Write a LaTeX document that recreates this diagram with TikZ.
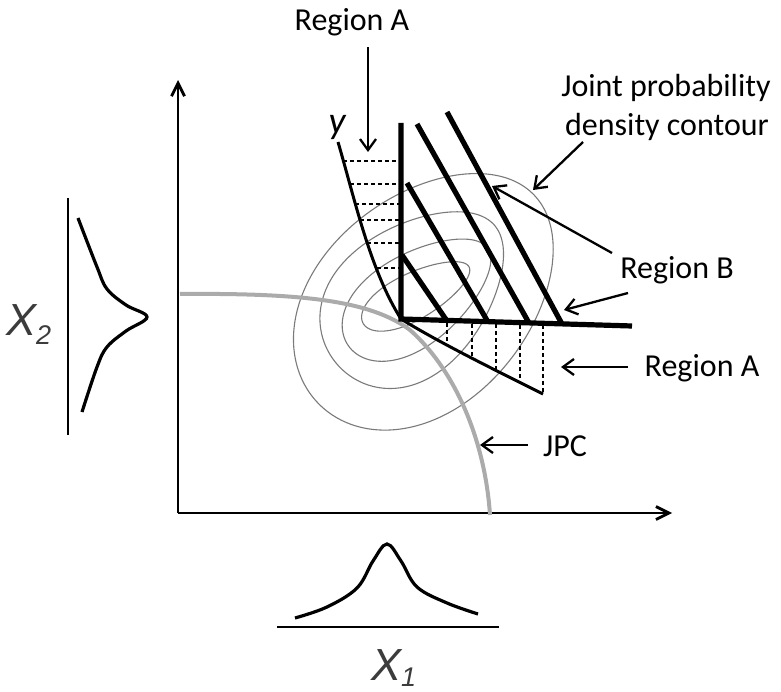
\documentclass[tikz,border=0pt]{standalone}
\usepackage{fontspec}
\setmainfont{Carlito}
\newfontfamily\xfont{Liberation Sans}
\usetikzlibrary{arrows.meta}
\definecolor{cgray}{HTML}{7A7A7A}
\definecolor{jgray}{HTML}{ABABAB}
\definecolor{xgray}{HTML}{3C3C3C}
\begin{document}
\begin{tikzpicture}[x=1pt,y=-1pt,
  lbl/.style={font=\fontsize{32}{39}\selectfont, inner sep=0pt},
  ylbl/.style={font=\fontsize{38}{40}\selectfont\itshape, inner sep=0pt},
  xlbl/.style={font=\xfont\itshape\fontsize{45}{50}\selectfont, text=xgray, inner sep=0pt},
  ptr/.style={line width=2.3pt, -{Straight Barb[length=11pt,width=16pt]}},
  axisln/.style={line width=2.8pt, -{Straight Barb[length=13pt,width=13pt]}},
  thickln/.style={line width=5.2pt, line join=miter},
  rcurve/.style={line width=3pt},
  dashln/.style={line width=1.4pt, dash pattern=on 4pt off 3pt},
  contour/.style={draw=cgray, line width=1.1pt},
  jpcline/.style={draw=jgray, line width=4pt},
  margcurve/.style={line width=3.2pt},
  margbase/.style={line width=1.5pt}
]
\useasboundingbox (0,0) rectangle (781,692);

% axes
\coordinate (O) at (178,513);
\coordinate (Ytop) at (178,80);
\coordinate (Xend) at (672,513);
\draw[axisln] (O) -- (Ytop);
\draw[axisln] (O) -- (Xend);

% marginal X2
\coordinate (lb1) at (68,198);
\coordinate (lb2) at (68,435);
\draw[margbase] (lb1) -- (lb2);
\draw[margcurve] plot[smooth, tension=0.6] coordinates {(78,218) (97,267) (107,289) (126,305) (147,317) (126,331) (107,347) (97,367) (82,412)};
\node[xlbl, anchor=base west] (x2) at (6,335) {X\raisebox{-9pt}{\fontsize{27}{27}\selectfont 2}};

% marginal X1
\coordinate (bb1) at (277,627);
\coordinate (bb2) at (499,627);
\draw[margbase] (bb1) -- (bb2);
\draw[margcurve] plot[smooth, tension=0.6] coordinates {(295,618) (327,607) (357,588) (373,561) (387,544) (401,561) (417,587) (447,603) (478,614)};
\node[xlbl, anchor=base west] (x1) at (371,680) {X\raisebox{-6pt}{\fontsize{27}{27}\selectfont 1}};

% contours (egg-shaped, tilted)
\draw[contour, shift={(416,295)}, rotate=28] plot[domain=0:360, samples=100, smooth cycle] ({60*cos(\x)}, {23*sin(\x)*(1-0.15*cos(\x))});
\draw[contour, shift={(418,297)}, rotate=35] plot[domain=0:360, samples=100, smooth cycle] ({85*cos(\x)}, {45*sin(\x)*(1-0.18*cos(\x))});
\draw[contour, shift={(416,295)}, rotate=42] plot[domain=0:360, samples=100, smooth cycle] ({105*cos(\x)}, {72*sin(\x)*(1-0.2*cos(\x))});
\draw[contour, shift={(426,299)}, rotate=44] plot[domain=0:360, samples=100, smooth cycle] ({150*cos(\x)}, {104*sin(\x)*(1-0.08*cos(\x))});

% JPC
\coordinate (j0) at (180,294);
\coordinate (j1) at (410,330);
\coordinate (j2) at (490,515);
\draw[jpcline] (j0) .. controls (300,293) and (370,300) .. (j1) .. controls (455,370) and (485,440) .. (j2);

% region A upper (dashed)
\draw[dashln] (343,161) -- (399,161);
\draw[dashln] (350,184) -- (399,184);
\draw[dashln] (355,204) -- (399,204);
\draw[dashln] (360,220) -- (399,220);
\draw[dashln] (367,243) -- (399,243);
\draw[dashln] (377,268) -- (399,268);
\coordinate (ua0) at (338,142);
\coordinate (C) at (401,319);
\draw[rcurve] (ua0) .. controls (355,200) and (370,270) .. (C);

% region A lower (dashed)
\coordinate (la1) at (543,394);
\draw[dashln] (447,323) -- (447,345);
\draw[dashln] (472,324) -- (472,358);
\draw[dashln] (496,324) -- (496,370);
\draw[dashln] (520,325) -- (520,382);
\draw[dashln] (543,325) -- (la1);
\draw[rcurve] (C) .. controls (440,343) and (495,370) .. (la1);

% region B boundary and hatch lines
\draw[thickln] (401,123) -- (C) -- (632,326);
\draw[thickln] (402,255) -- (447,321);
\draw[thickln] (407,183) -- (488,322);
\draw[thickln] (417,124) -- (529,323);
\draw[thickln] (447,112) -- (562,324);

% labels
\node[lbl, anchor=base] (ra1) at (352,31) {Region A};
\node[lbl, anchor=base] (jpd1) at (666,97) {Joint probability};
\node[lbl, anchor=base] (jpd2) at (667,136) {density contour};
\node[lbl, anchor=base] (rb) at (677,279) {Region B};
\node[lbl, anchor=base] (ra2) at (702,376) {Region A};
\node[lbl, anchor=base] (jpc) at (565,456) {JPC};
\node[ylbl, anchor=base] (ylab) at (337,134) {y};

% pointers
\coordinate (pA1s) at (368,47);
\coordinate (pA1t) at (368,152);
\draw[ptr] (pA1s) -- (pA1t);
\coordinate (pJs) at (583,142);
\coordinate (pJt) at (533,190);
\draw[ptr] (pJs) -- (pJt);
\coordinate (pB1s) at (612,253);
\coordinate (pB1t) at (492,186);
\draw[ptr] (pB1s) -- (pB1t);
\coordinate (pB2s) at (628,293);
\coordinate (pB2t) at (564,310);
\draw[ptr] (pB2s) -- (pB2t);
\coordinate (pA2s) at (628,367);
\coordinate (pA2t) at (561,367);
\draw[ptr] (pA2s) -- (pA2t);
\coordinate (pCs) at (528,445);
\coordinate (pCt) at (480,445);
\draw[ptr] (pCs) -- (pCt);
\end{tikzpicture}
\end{document}
